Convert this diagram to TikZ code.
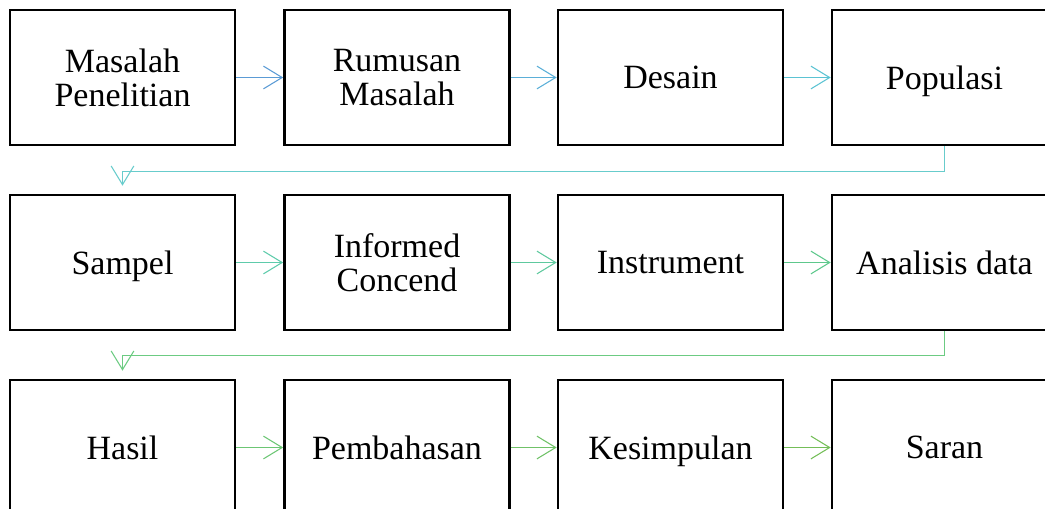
\documentclass[tikz,border=0pt]{standalone}
\usepackage{fontspec}
\setmainfont{Liberation Serif}
\usetikzlibrary{arrows.meta}

\definecolor{arrA}{HTML}{5B9BD5}
\definecolor{arrB}{HTML}{5BAFD8}
\definecolor{arrC}{HTML}{5BC3D3}
\definecolor{arrD}{HTML}{68CCCC}
\definecolor{arrE}{HTML}{5ECBAB}
\definecolor{arrF}{HTML}{5EC99E}
\definecolor{arrG}{HTML}{5EC88C}
\definecolor{arrH}{HTML}{6CCB82}
\definecolor{arrI}{HTML}{6CC674}
\definecolor{arrJ}{HTML}{70C268}
\definecolor{arrK}{HTML}{74BE58}

\begin{document}
\begin{tikzpicture}[x=0.75pt,y=-0.75pt,
    stepbox/.style={draw,line width=2pt,minimum width=168.75pt,
      minimum height=101.25pt,inner sep=0pt,align=center,text depth=0pt,
      font=\fontsize{25.5}{25.5}\selectfont},
    flow/.style={line width=0.8pt,
      -{Straight Barb[length=14pt,width=17pt,line width=0.8pt]}},
    down/.style={flow,shorten >=6pt}]
  \useasboundingbox (0,0) rectangle (1045,508);
  \clip (0,0) rectangle (1045,508);

  % row 1
  \node[stepbox] (masalah) at (122.5,77.5) {Masalah\\Penelitian};
  \node[stepbox] (rumusan) at (397,77.5) {Rumusan\\Masalah};
  \node[stepbox] (desain) at (670.5,77.5) {Desain};
  \node[stepbox] (populasi) at (944.5,77.5) {Populasi};

  % row 2
  \node[stepbox] (sampel) at (122.5,262.5) {Sampel};
  \node[stepbox] (informed) at (397,262.5) {Informed\\Concend};
  \node[stepbox] (instrumen) at (670.5,262.5) {Instrument};
  \node[stepbox] (analisis) at (944.5,262.5) {Analisis data};

  % row 3
  \node[stepbox] (hasil) at (122.5,447.5) {Hasil};
  \node[stepbox] (bahas) at (397,447.5) {Pembahasan};
  \node[stepbox] (simpul) at (670.5,447.5) {Kesimpulan};
  \node[stepbox] (saran) at (944.5,447.5) {Saran};

  \draw[flow,arrA] (masalah.east) -- (rumusan.west);
  \draw[flow,arrB] (rumusan.east) -- (desain.west);
  \draw[flow,arrC] (desain.east) -- (populasi.west);
  \draw[down,arrD] (populasi.south) -- ++(0,25) -| (sampel.north);

  \draw[flow,arrE] (sampel.east) -- (informed.west);
  \draw[flow,arrF] (informed.east) -- (instrumen.west);
  \draw[flow,arrG] (instrumen.east) -- (analisis.west);
  \draw[down,arrH] (analisis.south) -- ++(0,24) -| (hasil.north);

  \draw[flow,arrI] (hasil.east) -- (bahas.west);
  \draw[flow,arrJ] (bahas.east) -- (simpul.west);
  \draw[flow,arrK] (simpul.east) -- (saran.west);
\end{tikzpicture}
\end{document}
